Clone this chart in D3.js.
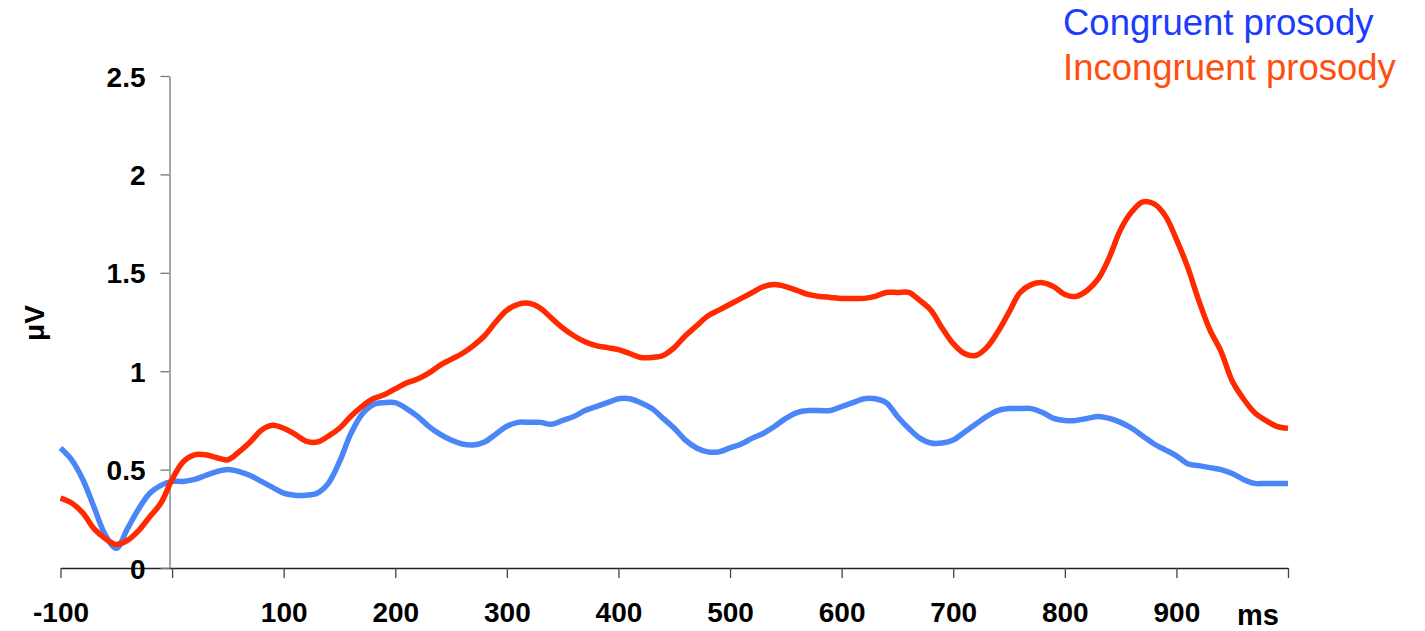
<!DOCTYPE html>
<html>
<head>
<meta charset="utf-8">
<script src="https://cdn.jsdelivr.net/npm/d3@7"></script>
<style>
  body { margin: 0; background: #fff; }
  svg { display: block; font-family: "Liberation Sans", Arial, sans-serif; }
</style>
</head>
<body>
<div id="chart"></div>
<script>
// time points (ms), every 10 ms from -100 to 1000
const times = d3.range(-100, 1001, 10);

const congruent = [
  0.61, 0.55, 0.45, 0.31, 0.17, 0.10, 0.20, 0.30, 0.38, 0.42,
  0.44, 0.44, 0.45, 0.47, 0.49, 0.50, 0.49, 0.47, 0.44, 0.41,
  0.38, 0.37, 0.37, 0.38, 0.43, 0.54, 0.68, 0.78, 0.83, 0.84,
  0.84, 0.81, 0.77, 0.72, 0.68, 0.65, 0.63, 0.625, 0.64, 0.68,
  0.72, 0.74, 0.74, 0.74, 0.73, 0.75, 0.77, 0.80, 0.82, 0.84,
  0.86, 0.86, 0.84, 0.81, 0.76, 0.71, 0.65, 0.61, 0.59, 0.59,
  0.61, 0.63, 0.66, 0.685, 0.72, 0.76, 0.79, 0.80, 0.80, 0.80,
  0.82, 0.84, 0.86, 0.86, 0.84, 0.77, 0.71, 0.66, 0.635, 0.635,
  0.65, 0.69, 0.73, 0.77, 0.80, 0.81, 0.81, 0.81, 0.79, 0.76,
  0.75, 0.75, 0.76, 0.77, 0.76, 0.74, 0.71, 0.67, 0.63, 0.60,
  0.57, 0.53, 0.52, 0.51, 0.50, 0.48, 0.45, 0.43, 0.43, 0.43,
  0.43
];

const incongruent = [
  0.355, 0.33, 0.28, 0.20, 0.15, 0.12, 0.14, 0.19, 0.26, 0.33,
  0.45, 0.54, 0.575, 0.575, 0.56, 0.55, 0.59, 0.64, 0.70, 0.725,
  0.71, 0.68, 0.645, 0.64, 0.67, 0.71, 0.77, 0.82, 0.86, 0.88,
  0.91, 0.94, 0.96, 0.99, 1.03, 1.06, 1.09, 1.13, 1.18, 1.25,
  1.31, 1.34, 1.345, 1.32, 1.27, 1.22, 1.18, 1.15, 1.13, 1.12,
  1.11, 1.09, 1.07, 1.07, 1.08, 1.12, 1.18, 1.23, 1.28, 1.31,
  1.34, 1.37, 1.40, 1.43, 1.44, 1.43, 1.41, 1.39, 1.38, 1.375,
  1.37, 1.37, 1.37, 1.38, 1.40, 1.40, 1.40, 1.36, 1.31, 1.22,
  1.14, 1.09, 1.08, 1.12, 1.20, 1.30, 1.40, 1.44, 1.45, 1.43,
  1.39, 1.38, 1.41, 1.47, 1.58, 1.72, 1.81, 1.86, 1.85, 1.79,
  1.67, 1.53, 1.36, 1.21, 1.10, 0.95, 0.86, 0.79, 0.75, 0.72,
  0.71
];

const xTicks = [-100, 0, 100, 200, 300, 400, 500, 600, 700, 800, 900, 1000];
const xTickLabels = ['-100', '', '100', '200', '300', '400', '500', '600', '700', '800', '900', ''];
const yTicks = [0, 0.5, 1, 1.5, 2, 2.5];
const seriesNames = ['Congruent prosody', 'Incongruent prosody'];

const width = 1425, height = 631;

const svg = d3.select('#chart').append('svg')
    .attr('width', width)
    .attr('height', height);

const x = d3.scaleLinear().domain([-100, 1000]).range([60.5, 1288]);
const y = d3.scaleLinear().domain([0, 2.5]).range([568, 76]);
const yAxisX = 169.5;

// x axis
const xAxis = svg.append('g')
    .attr('transform', 'translate(0,568)')
    .call(d3.axisBottom(x).tickValues(xTicks).tickSize(10).tickSizeOuter(0)
        .tickFormat((d, i) => xTickLabels[i]));
xAxis.select('.domain').attr('stroke', '#222').attr('stroke-width', 1.3);
xAxis.selectAll('.tick line').attr('stroke', '#444').attr('stroke-width', 1.3);
xAxis.selectAll('.tick text')
    .attr('y', 54)
    .attr('dy', 0)
    .attr('fill', '#000')
    .style('font-size', '28px')
    .style('font-weight', 'bold');

// y axis
const yAxis = svg.append('g')
    .attr('transform', `translate(${yAxisX},0)`)
    .call(d3.axisLeft(y).tickValues(yTicks).tickSize(9).tickSizeOuter(0)
        .tickFormat(d => d3.format('')(d)));
yAxis.select('.domain').attr('stroke', '#777').attr('stroke-width', 1.3);
yAxis.selectAll('.tick line').attr('stroke', '#777').attr('stroke-width', 1.3);
yAxis.selectAll('.tick text')
    .attr('x', -24)
    .attr('dy', '0.36em')
    .attr('fill', '#000')
    .style('font-size', '28px')
    .style('font-weight', 'bold');

// axis titles
svg.append('text')
    .attr('transform', 'translate(44,323) rotate(-90)')
    .attr('text-anchor', 'middle')
    .style('font-size', '28px')
    .style('font-weight', 'bold')
    .text('μV');

svg.append('text')
    .attr('x', 1237)
    .attr('y', 625)
    .style('font-size', '29px')
    .style('font-weight', 'bold')
    .text('ms');

// lines
const line = d3.line()
    .x((d, i) => x(times[i]))
    .y(d => y(d))
    .curve(d3.curveCatmullRom.alpha(0.5));

svg.append('path')
    .datum(congruent)
    .attr('d', line)
    .attr('fill', 'none')
    .attr('stroke', '#4a86f7')
    .attr('stroke-width', 5.5)
    .attr('stroke-linejoin', 'round');

svg.append('path')
    .datum(incongruent)
    .attr('d', line)
    .attr('fill', 'none')
    .attr('stroke', '#ff2a00')
    .attr('stroke-width', 5.5)
    .attr('stroke-linejoin', 'round');

// legend
const legendColors = ['#1a3cff', '#ff4f0f'];
svg.selectAll('.legend')
    .data(seriesNames)
    .enter().append('text')
    .attr('class', 'legend')
    .attr('x', 1063)
    .attr('y', (d, i) => 35 + i * 45)
    .attr('fill', (d, i) => legendColors[i])
    .style('font-size', '36.5px')
    .text(d => d);
</script>
</body>
</html>
